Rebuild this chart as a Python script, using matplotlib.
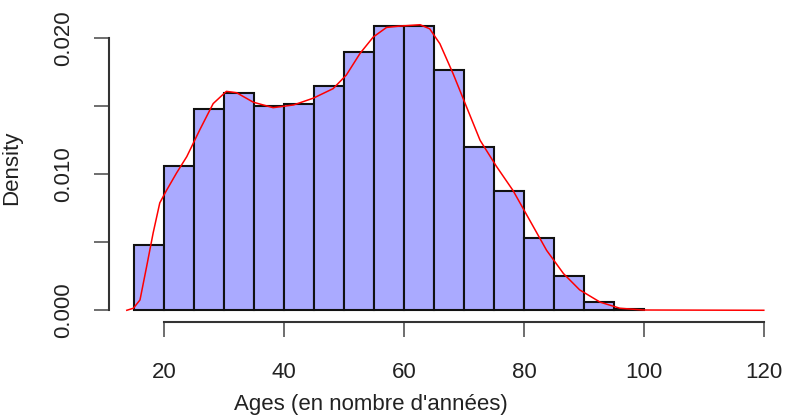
import matplotlib
matplotlib.use("Agg")
import matplotlib.pyplot as plt
import numpy as np

# histogram: 5-year bins, densities
bin_edges = np.arange(15, 105, 5)
densities = [0.0048, 0.0106, 0.0148, 0.0160, 0.0150, 0.0152, 0.0165, 0.0190,
             0.0209, 0.0209, 0.0177, 0.0120, 0.0088, 0.0053, 0.0025, 0.0006, 0.0001]

# kernel density estimate (red line)
kde_x = [13.8, 14.9, 16.0, 17.1, 18.2, 19.3, 20.4, 22.1, 23.8, 26.0, 28.2, 30.4,
         32.1, 34.9, 38.2, 41.6, 44.9, 48.2, 50.4, 52.7, 54.9, 57.1, 59.3, 62.7,
         64.3, 66.0, 68.2, 70.4, 72.7, 75.4, 78.2, 81.0, 83.8, 86.6, 89.3, 92.7,
         96.0, 99.9, 120.0]
kde_y = [0.0, 0.00015, 0.00076, 0.0032, 0.0057, 0.0079, 0.0088, 0.0101, 0.0113,
         0.0133, 0.0152, 0.0161, 0.0160, 0.0153, 0.0149, 0.0151, 0.0156, 0.0163,
         0.0173, 0.0189, 0.0201, 0.0208, 0.0209, 0.0210, 0.0207, 0.0196, 0.0174,
         0.0150, 0.0125, 0.0106, 0.0088, 0.0066, 0.0044, 0.0027, 0.0015, 0.0006,
         0.00015, 0.00002, 0.0]

x_ticks = [20, 40, 60, 80, 100, 120]
y_ticks = [0.000, 0.005, 0.010, 0.015, 0.020]
y_labels = ["0.000", "", "0.010", "", "0.020"]

plt.rcParams['font.family'] = ['Liberation Sans', 'DejaVu Sans']

W, H = 789, 415
fig = plt.figure(figsize=(W / 100, H / 100), dpi=100)
ax = fig.add_axes([108.8 / W, 93.3 / H, (789 - 108.8) / W, (321.7 - 13.3) / H])

ax.bar(bin_edges[:-1], densities, width=5, align='edge',
       color='#aaaaff', edgecolor='#111111', linewidth=1.5)
ax.plot(kde_x, kde_y, color='#ff0000', linewidth=1.1)

ax.set_xlim(10.8, 124.2)
ax.set_ylim(-0.00084, 0.02184)

for s in ['top', 'right']:
    ax.spines[s].set_visible(False)
ax.spines['left'].set_bounds(0, 0.020)
ax.spines['bottom'].set_bounds(20, 120)
for s in ['left', 'bottom']:
    ax.spines[s].set_linewidth(1.5)
    ax.spines[s].set_color('#333333')

ax.set_xticks(x_ticks)
ax.set_yticks(y_ticks)
ax.set_yticklabels(y_labels, rotation=90, va='center')
ax.tick_params(axis='both', length=11, width=1.2, color='#555555',
               labelsize=16, labelcolor='#222222')
ax.tick_params(axis='x', pad=18)
ax.tick_params(axis='y', pad=14)

fig.text(12 / W, 1 - 167.5 / H, "Density", rotation=90, ha='center', va='center',
         fontsize=16, color='#222222')
fig.text(371 / W, 0.5 / H, "Ages (en nombre d'années)", ha='center', va='bottom',
         fontsize=16, color='#222222')

fig.savefig("out.png", dpi=100)
